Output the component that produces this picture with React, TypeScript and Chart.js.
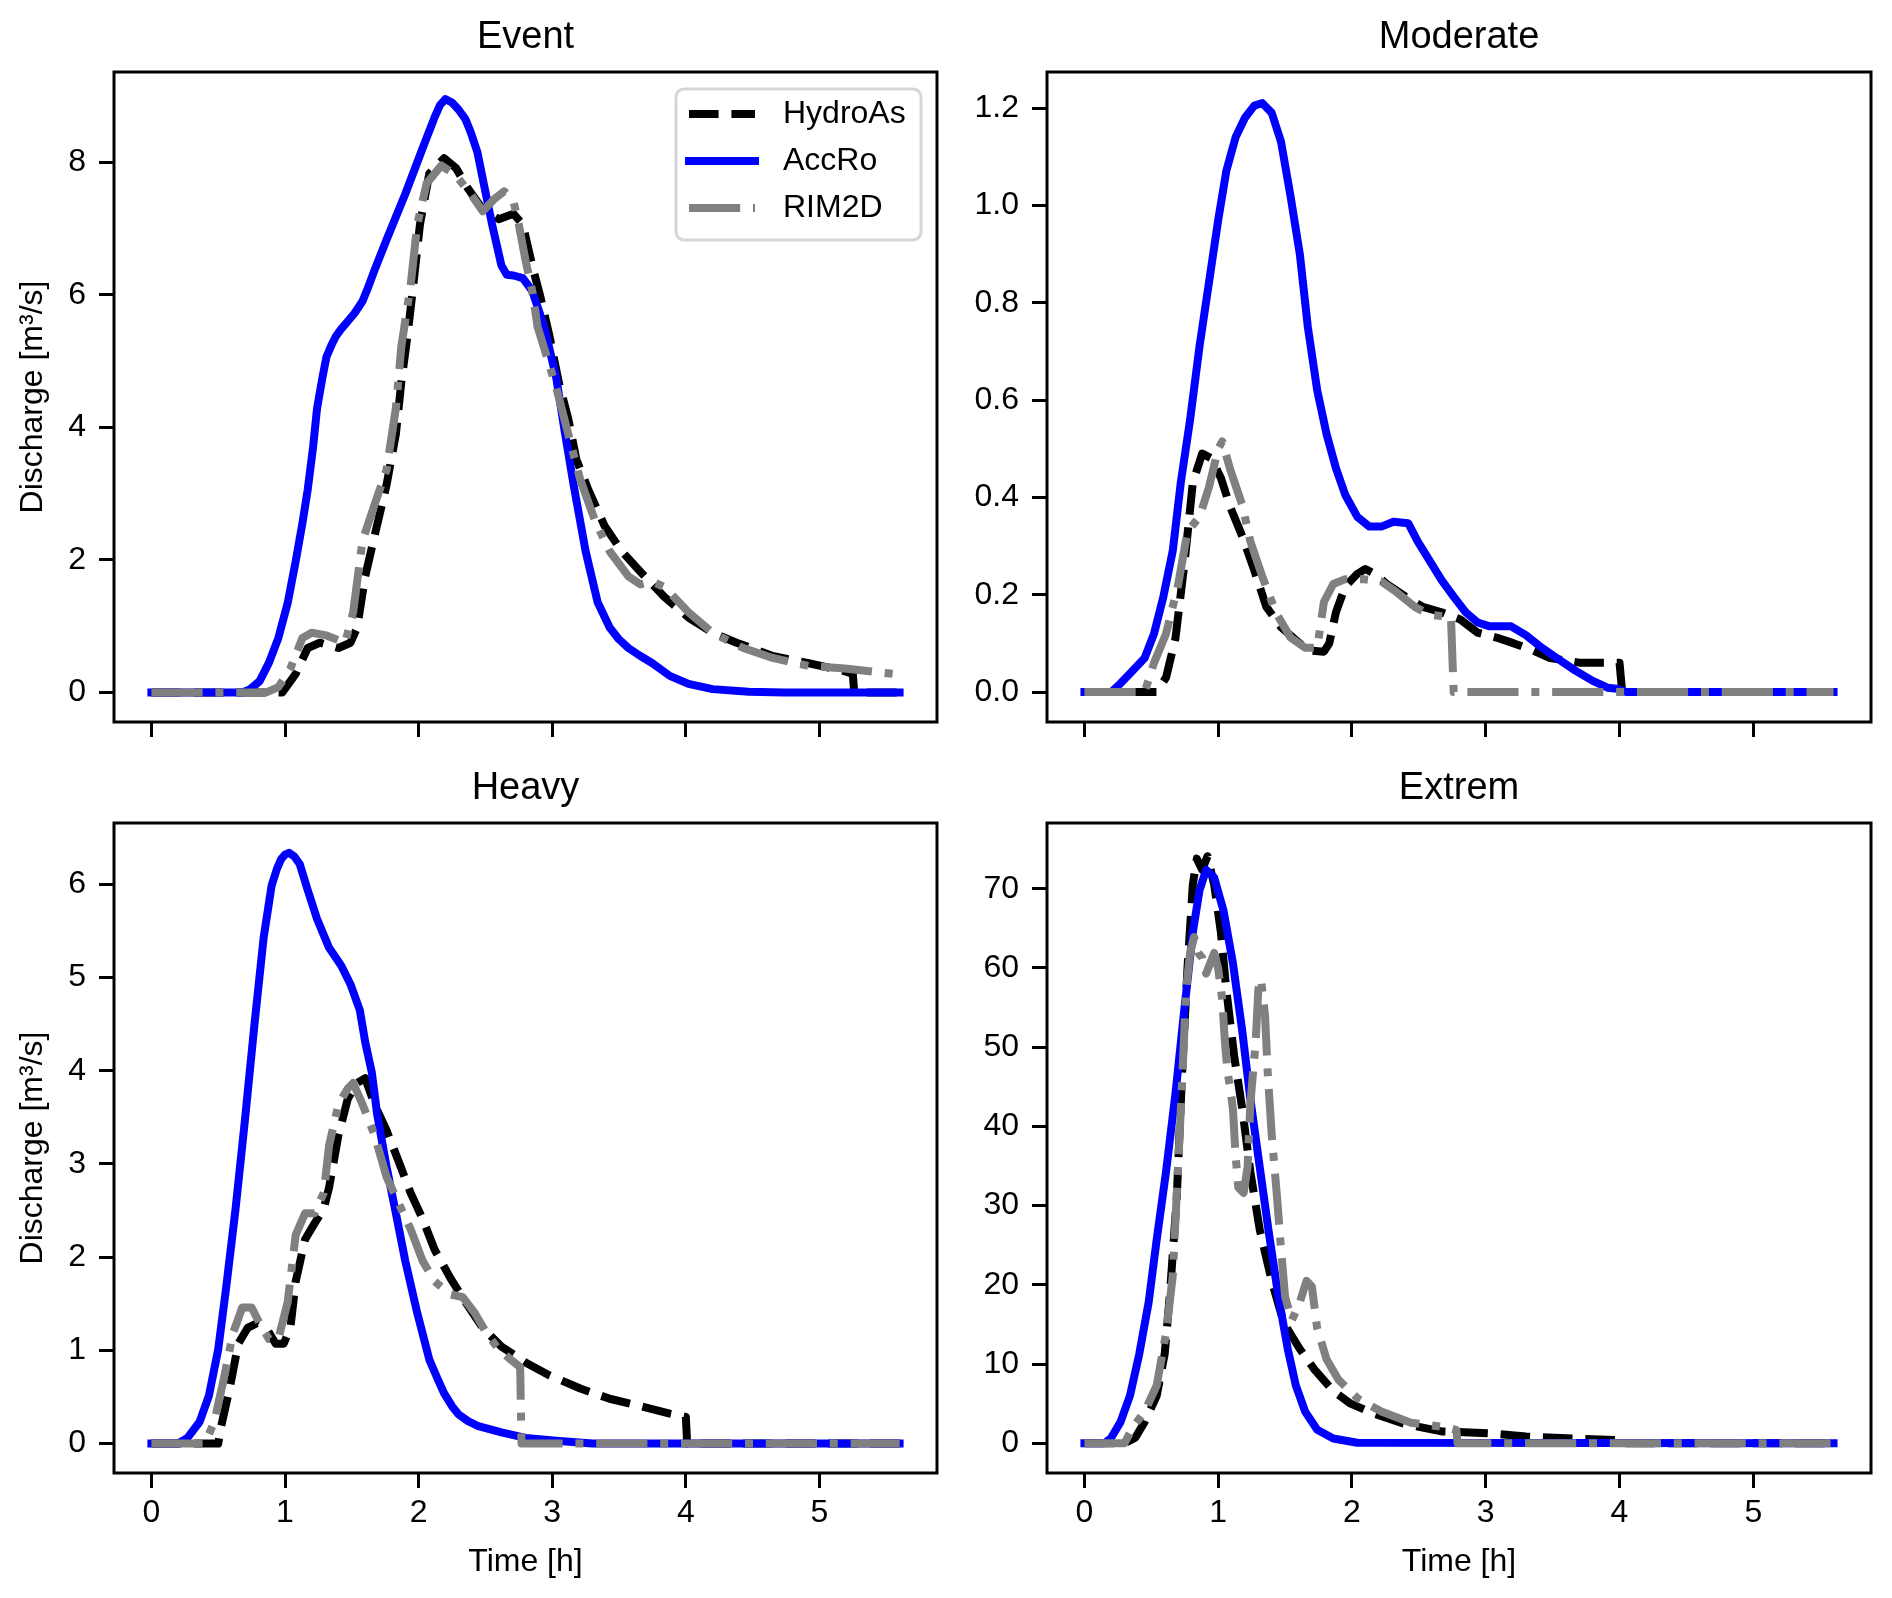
import React, { useEffect, useRef } from "react";
import { Chart, registerables } from "chart.js";

Chart.register(...registerables);

const FONT_FAMILY = "'Liberation Sans', Arial, Helvetica, sans-serif";

// ---------------- data ----------------
const seriesNames = ["HydroAs", "AccRo", "RIM2D"];
const panelTitles = ["Event", "Moderate", "Heavy", "Extrem"];
const xTickValues = [0, 1, 2, 3, 4, 5];
const eventYTicks = [0, 2, 4, 6, 8];
const moderateYTicks = [0, 0.2, 0.4, 0.6, 0.8, 1.0, 1.2];
const heavyYTicks = [0, 1, 2, 3, 4, 5, 6];
const extremYTicks = [0, 10, 20, 30, 40, 50, 60, 70];

// Event
const eventHydroAsX = [0, 0.98, 1.08, 1.17, 1.26, 1.4, 1.49, 1.54, 1.6, 1.67, 1.76, 1.83, 1.87, 1.92, 1.96, 2.01, 2.08, 2.19, 2.28, 2.37, 2.48, 2.6, 2.71, 2.78, 2.85, 2.91, 2.98, 3.05, 3.12, 3.18, 3.27, 3.39, 3.52, 3.66, 3.84, 4.02, 4.2, 4.38, 4.65, 4.92, 5.19, 5.25, 5.26, 5.6];
const eventHydroAsY = [0, 0, 0.28, 0.67, 0.75, 0.67, 0.75, 0.98, 1.75, 2.36, 3.13, 3.9, 4.67, 5.44, 6.14, 7.06, 7.83, 8.06, 7.91, 7.6, 7.29, 7.14, 7.22, 7.06, 6.44, 5.98, 5.37, 4.67, 4.13, 3.52, 3.06, 2.52, 2.13, 1.82, 1.44, 1.13, 0.9, 0.75, 0.55, 0.44, 0.32, 0.28, 0, 0];
const eventAccRoX = [0, 0.68, 0.74, 0.81, 0.88, 0.95, 1.02, 1.08, 1.13, 1.17, 1.21, 1.24, 1.28, 1.31, 1.35, 1.38, 1.42, 1.47, 1.52, 1.58, 1.62, 1.67, 1.76, 1.9, 2.03, 2.12, 2.16, 2.2, 2.25, 2.3, 2.35, 2.39, 2.44, 2.48, 2.55, 2.62, 2.66, 2.71, 2.78, 2.85, 2.94, 3.03, 3.09, 3.16, 3.25, 3.34, 3.43, 3.5, 3.57, 3.66, 3.75, 3.88, 4.02, 4.2, 4.47, 4.74, 5.6];
const eventAccRoY = [0, 0, 0.05, 0.17, 0.45, 0.82, 1.35, 1.98, 2.55, 3.06, 3.7, 4.29, 4.75, 5.06, 5.25, 5.37, 5.48, 5.6, 5.72, 5.9, 6.1, 6.37, 6.83, 7.52, 8.21, 8.68, 8.86, 8.95, 8.9, 8.79, 8.65, 8.45, 8.15, 7.75, 7.06, 6.44, 6.3, 6.29, 6.25, 6.06, 5.52, 4.75, 3.98, 3.13, 2.13, 1.36, 0.98, 0.8, 0.67, 0.55, 0.44, 0.25, 0.13, 0.05, 0.01, 0, 0];
const eventRim2dX = [0, 0.86, 0.95, 1.04, 1.13, 1.2, 1.31, 1.45, 1.51, 1.58, 1.67, 1.76, 1.83, 1.87, 1.94, 1.99, 2.06, 2.17, 2.28, 2.39, 2.48, 2.57, 2.64, 2.71, 2.75, 2.8, 2.85, 2.89, 2.96, 3.03, 3.12, 3.21, 3.32, 3.43, 3.57, 3.66, 3.75, 3.84, 4.02, 4.2, 4.43, 4.65, 4.92, 5.19, 5.6];
const eventRim2dY = [0, 0, 0.08, 0.36, 0.82, 0.9, 0.86, 0.75, 1.21, 2.29, 2.83, 3.36, 4.29, 5.21, 6.14, 7.06, 7.68, 7.95, 7.8, 7.52, 7.26, 7.45, 7.56, 7.41, 7.06, 6.52, 6.06, 5.52, 5.06, 4.6, 3.9, 3.21, 2.59, 2.13, 1.75, 1.63, 1.67, 1.59, 1.21, 0.9, 0.67, 0.52, 0.4, 0.36, 0.27];

// Moderate
const moderateHydroAsX = [0, 0.54, 0.61, 0.68, 0.75, 0.81, 0.88, 0.95, 1.02, 1.09, 1.18, 1.27, 1.36, 1.47, 1.58, 1.67, 1.79, 1.83, 1.88, 1.95, 2.04, 2.1, 2.17, 2.26, 2.4, 2.53, 2.67, 2.81, 2.94, 3.08, 3.21, 3.35, 3.48, 3.71, 4.0, 4.02, 5.6];
const moderateHydroAsY = [0, 0, 0.03, 0.11, 0.27, 0.43, 0.49, 0.48, 0.44, 0.38, 0.32, 0.25, 0.175, 0.133, 0.107, 0.086, 0.083, 0.1, 0.164, 0.217, 0.243, 0.253, 0.243, 0.222, 0.196, 0.175, 0.164, 0.149, 0.122, 0.112, 0.1, 0.086, 0.07, 0.06, 0.06, 0, 0];
const moderateAccRoX = [0, 0.2, 0.27, 0.36, 0.45, 0.52, 0.59, 0.66, 0.72, 0.79, 0.86, 0.93, 1.0, 1.06, 1.13, 1.2, 1.27, 1.33, 1.4, 1.47, 1.54, 1.61, 1.67, 1.74, 1.81, 1.88, 1.95, 2.04, 2.13, 2.22, 2.31, 2.42, 2.49, 2.58, 2.67, 2.76, 2.85, 2.94, 3.03, 3.19, 3.3, 3.42, 3.53, 3.67, 3.8, 3.91, 3.98, 4.05, 5.6];
const moderateAccRoY = [0, 0, 0.018, 0.044, 0.07, 0.12, 0.196, 0.29, 0.43, 0.56, 0.71, 0.84, 0.97, 1.07, 1.14, 1.18, 1.205, 1.21, 1.19, 1.13, 1.02, 0.9, 0.75, 0.62, 0.53, 0.46, 0.405, 0.36, 0.34, 0.34, 0.35, 0.347, 0.31, 0.27, 0.23, 0.196, 0.164, 0.143, 0.135, 0.135, 0.117, 0.091, 0.07, 0.044, 0.023, 0.009, 0.007, 0, 0];
const moderateRim2dX = [0, 0.45, 0.52, 0.61, 0.7, 0.77, 0.86, 0.93, 1.0, 1.03, 1.09, 1.18, 1.24, 1.33, 1.43, 1.54, 1.65, 1.74, 1.79, 1.86, 1.95, 2.08, 2.22, 2.33, 2.47, 2.58, 2.74, 2.76, 5.6];
const moderateRim2dY = [0, 0, 0.06, 0.12, 0.22, 0.33, 0.36, 0.42, 0.5, 0.515, 0.457, 0.384, 0.31, 0.237, 0.164, 0.112, 0.091, 0.091, 0.185, 0.222, 0.232, 0.232, 0.227, 0.206, 0.175, 0.159, 0.154, 0, 0];

// Heavy
const heavyHydroAsX = [0, 0.5, 0.52, 0.59, 0.65, 0.72, 0.79, 0.86, 0.93, 0.99, 1.04, 1.08, 1.15, 1.22, 1.29, 1.33, 1.4, 1.47, 1.54, 1.6, 1.67, 1.76, 1.85, 1.94, 2.03, 2.12, 2.24, 2.35, 2.48, 2.62, 2.8, 2.98, 3.21, 3.43, 3.66, 3.88, 4.0, 4.01, 5.6];
const heavyHydroAsY = [0, 0, 0.17, 0.62, 1.07, 1.24, 1.29, 1.24, 1.07, 1.07, 1.24, 1.74, 2.19, 2.36, 2.52, 2.75, 3.31, 3.7, 3.87, 3.92, 3.64, 3.36, 3.03, 2.69, 2.41, 2.08, 1.77, 1.52, 1.24, 1.04, 0.87, 0.73, 0.59, 0.48, 0.4, 0.32, 0.285, 0, 0];
const heavyAccRoX = [0, 0.2, 0.27, 0.36, 0.43, 0.5, 0.56, 0.63, 0.7, 0.77, 0.84, 0.9, 0.94, 0.97, 1.0, 1.03, 1.07, 1.11, 1.17, 1.24, 1.33, 1.42, 1.49, 1.56, 1.6, 1.65, 1.69, 1.76, 1.83, 1.9, 1.99, 2.08, 2.14, 2.19, 2.25, 2.3, 2.37, 2.44, 2.62, 2.8, 3.03, 3.3, 5.6];
const heavyAccRoY = [0, 0, 0.06, 0.23, 0.51, 1.01, 1.68, 2.52, 3.47, 4.48, 5.43, 5.99, 6.17, 6.27, 6.32, 6.34, 6.3, 6.22, 5.94, 5.63, 5.32, 5.13, 4.93, 4.65, 4.31, 3.98, 3.53, 2.97, 2.47, 1.96, 1.4, 0.9, 0.7, 0.54, 0.4, 0.31, 0.24, 0.19, 0.12, 0.06, 0.03, 0, 0];
const heavyRim2dX = [0, 0.4, 0.47, 0.54, 0.61, 0.68, 0.75, 0.81, 0.88, 0.95, 1.02, 1.08, 1.15, 1.22, 1.29, 1.33, 1.4, 1.47, 1.51, 1.58, 1.67, 1.76, 1.85, 1.94, 2.03, 2.12, 2.24, 2.33, 2.42, 2.51, 2.6, 2.69, 2.76, 2.77, 5.6];
const heavyRim2dY = [0, 0, 0.23, 0.68, 1.18, 1.46, 1.46, 1.29, 1.12, 1.12, 1.52, 2.24, 2.47, 2.47, 2.69, 3.2, 3.64, 3.81, 3.87, 3.64, 3.31, 2.86, 2.58, 2.3, 1.96, 1.74, 1.6, 1.57, 1.4, 1.18, 1.01, 0.9, 0.82, 0, 0];

// Extrem
const extremHydroAsX = [0, 0.3, 0.38, 0.45, 0.54, 0.6, 0.64, 0.69, 0.73, 0.77, 0.81, 0.84, 0.88, 0.92, 0.97, 1.02, 1.06, 1.12, 1.18, 1.24, 1.31, 1.4, 1.49, 1.61, 1.72, 1.86, 1.99, 2.17, 2.4, 2.67, 3.03, 3.3, 3.67, 4.0, 4.01, 5.6];
const extremHydroAsY = [0, 0, 0.7, 2.7, 6.0, 11.3, 19.1, 31.0, 46.8, 59.9, 70.5, 73.8, 72.4, 74.1, 70.5, 64.5, 57.3, 48.8, 42.2, 34.3, 27.0, 20.5, 15.2, 11.9, 9.3, 6.6, 5.0, 3.7, 2.4, 1.5, 1.25, 0.86, 0.6, 0.4, 0, 0];
const extremAccRoX = [0, 0.15, 0.2, 0.27, 0.34, 0.41, 0.48, 0.54, 0.61, 0.68, 0.75, 0.81, 0.86, 0.91, 0.97, 1.04, 1.11, 1.18, 1.24, 1.31, 1.38, 1.45, 1.52, 1.58, 1.65, 1.74, 1.86, 2.04, 5.6];
const extremAccRoY = [0, 0, 0.7, 2.7, 6.0, 11.3, 17.8, 25.7, 34.3, 44.1, 55.3, 64.5, 69.8, 72.4, 71.4, 67.2, 60.6, 52.0, 43.5, 34.9, 26.4, 18.5, 11.9, 7.3, 4.0, 1.7, 0.6, 0.07, 0];
const extremRim2dX = [0, 0.3, 0.36, 0.45, 0.54, 0.61, 0.66, 0.7, 0.73, 0.76, 0.79, 0.82, 0.85, 0.88, 0.91, 0.94, 0.97, 1.0, 1.03, 1.05, 1.07, 1.09, 1.11, 1.13, 1.15, 1.19, 1.22, 1.24, 1.28, 1.3, 1.32, 1.35, 1.37, 1.4, 1.44, 1.47, 1.5, 1.55, 1.61, 1.66, 1.7, 1.74, 1.81, 1.9, 2.04, 2.22, 2.44, 2.71, 2.78, 2.79, 5.6];
const extremRim2dY = [0, 0, 2.0, 4.0, 7.3, 13.9, 21.1, 34.9, 45.5, 57.3, 61.9, 63.9, 61.9, 61.3, 59.3, 60.6, 61.9, 59.9, 56.0, 50.7, 46.8, 44.8, 42.2, 36.3, 32.3, 31.6, 34.9, 42.8, 50.7, 57.3, 58.6, 54.0, 46.8, 38.9, 31.0, 24.4, 18.5, 15.5, 17.8, 20.5, 19.8, 14.5, 10.6, 8.0, 5.7, 4.0, 2.6, 2.0, 1.7, 0, 0];

// ---------------- styles / layout ----------------
const LINE_WIDTH = 8;
const SERIES_STYLE = [
  { color: "#000000", dash: [29.6, 12.8], cap: "butt", order: 2 },
  { color: "#0000ff", dash: [] as number[], cap: "square", order: 1 },
  { color: "#808080", dash: [51.2, 12.8, 8, 12.8], cap: "butt", order: 0 },
];

type PanelCfg = {
  title: string;
  xs: number[][];
  ys: number[][];
  yMin: number;
  yMax: number;
  yTicks: number[];
  decimals: number;
  box: { left: number; top: number; width: number; height: number };
  padRight: number;
  yAxisWidth: number;
  xAxisHeight: number;
  titlePad: { top: number; bottom: number };
  showXLabels: boolean;
  showYTitle: boolean;
  showLegend: boolean;
};

const X_MIN = -0.28;
const X_MAX = 5.88;

const panels: PanelCfg[] = [
  {
    title: panelTitles[0],
    xs: [eventHydroAsX, eventAccRoX, eventRim2dX],
    ys: [eventHydroAsY, eventAccRoY, eventRim2dY],
    yMin: -0.446, yMax: 9.36, yTicks: eventYTicks, decimals: 0,
    box: { left: 0, top: 0, width: 946, height: 760 },
    padRight: 9, yAxisWidth: 114, xAxisHeight: 38,
    titlePad: { top: 19, bottom: 15 },
    showXLabels: false, showYTitle: true, showLegend: true,
  },
  {
    title: panelTitles[1],
    xs: [moderateHydroAsX, moderateAccRoX, moderateRim2dX],
    ys: [moderateHydroAsY, moderateAccRoY, moderateRim2dY],
    yMin: -0.0615, yMax: 1.274, yTicks: moderateYTicks, decimals: 1,
    box: { left: 946, top: 0, width: 946, height: 760 },
    padRight: 21, yAxisWidth: 101, xAxisHeight: 38,
    titlePad: { top: 19, bottom: 15 },
    showXLabels: false, showYTitle: false, showLegend: false,
  },
  {
    title: panelTitles[2],
    xs: [heavyHydroAsX, heavyAccRoX, heavyRim2dX],
    ys: [heavyHydroAsY, heavyAccRoY, heavyRim2dY],
    yMin: -0.317, yMax: 6.66, yTicks: heavyYTicks, decimals: 0,
    box: { left: 0, top: 760, width: 946, height: 838 },
    padRight: 9, yAxisWidth: 114, xAxisHeight: 125,
    titlePad: { top: 10, bottom: 15 },
    showXLabels: true, showYTitle: true, showLegend: false,
  },
  {
    title: panelTitles[3],
    xs: [extremHydroAsX, extremAccRoX, extremRim2dX],
    ys: [extremHydroAsY, extremAccRoY, extremRim2dY],
    yMin: -3.75, yMax: 78.3, yTicks: extremYTicks, decimals: 0,
    box: { left: 946, top: 760, width: 946, height: 838 },
    padRight: 21, yAxisWidth: 101, xAxisHeight: 125,
    titlePad: { top: 10, bottom: 15 },
    showXLabels: true, showYTitle: false, showLegend: false,
  },
];

// frame (all four spines) drawn above the lines
const framePlugin = {
  id: "mplFrame",
  afterDatasetsDraw(chart: any) {
    const { ctx, chartArea } = chart;
    ctx.save();
    ctx.strokeStyle = "#000";
    ctx.lineWidth = 3;
    ctx.setLineDash([]);
    ctx.strokeRect(chartArea.left, chartArea.top, chartArea.right - chartArea.left, chartArea.bottom - chartArea.top);
    ctx.restore();
  },
};

// matplotlib-style legend in the upper right corner
const legendPlugin = {
  id: "mplLegend",
  afterDraw(chart: any) {
    const { ctx, chartArea } = chart;
    const boxRight = chartArea.right - 16;
    const boxTop = chartArea.top + 17;
    const boxW = 245;
    const boxH = 151;
    const boxLeft = boxRight - boxW;
    ctx.save();
    ctx.beginPath();
    if (ctx.roundRect) ctx.roundRect(boxLeft, boxTop, boxW, boxH, 8);
    else ctx.rect(boxLeft, boxTop, boxW, boxH);
    ctx.fillStyle = "rgba(255,255,255,0.8)";
    ctx.fill();
    ctx.strokeStyle = "#d6d6d6";
    ctx.lineWidth = 3;
    ctx.stroke();
    const handleX0 = boxLeft + 13;
    const handleX1 = handleX0 + 66;
    const textX = boxLeft + 107;
    chart.data.datasets.forEach((ds: any, i: number) => {
      const y = boxTop + 25 + i * 47;
      ctx.beginPath();
      ctx.setLineDash(SERIES_STYLE[i].dash);
      ctx.lineDashOffset = 0;
      ctx.lineCap = SERIES_STYLE[i].cap;
      ctx.strokeStyle = SERIES_STYLE[i].color;
      ctx.lineWidth = LINE_WIDTH;
      ctx.moveTo(handleX0, y);
      ctx.lineTo(handleX1, y);
      ctx.stroke();
      ctx.setLineDash([]);
      ctx.fillStyle = "#000";
      ctx.font = `32px ${FONT_FAMILY}`;
      ctx.textAlign = "left";
      ctx.textBaseline = "middle";
      ctx.fillText(ds.label, textX, y);
    });
    ctx.restore();
  },
};

function buildConfig(p: PanelCfg): any {
  const datasets = seriesNames.map((name, i) => ({
    label: name,
    data: p.xs[i].map((x, k) => ({ x, y: p.ys[i][k] })),
    borderColor: SERIES_STYLE[i].color,
    backgroundColor: SERIES_STYLE[i].color,
    borderWidth: LINE_WIDTH,
    borderDash: SERIES_STYLE[i].dash,
    borderCapStyle: SERIES_STYLE[i].cap,
    borderJoinStyle: "round",
    pointRadius: 0,
    pointHoverRadius: 0,
    tension: 0,
    fill: false,
    order: SERIES_STYLE[i].order,
  }));
  const tickFont = { family: FONT_FAMILY, size: 32, lineHeight: 1, weight: "normal" };
  return {
    type: "line",
    data: { datasets },
    options: {
      animation: false,
      responsive: false,
      events: [],
      layout: { padding: { left: 0, top: 0, right: p.padRight, bottom: 0 } },
      plugins: {
        legend: { display: false },
        tooltip: { enabled: false },
        title: {
          display: true,
          text: p.title,
          fullSize: false,
          color: "#000",
          font: { family: FONT_FAMILY, size: 38, weight: "normal", lineHeight: 1 },
          padding: p.titlePad,
        },
      },
      scales: {
        x: {
          type: "linear",
          position: "bottom",
          min: X_MIN,
          max: X_MAX,
          afterBuildTicks: (scale: any) => {
            scale.ticks = xTickValues.map((v) => ({ value: v }));
          },
          afterFit: (scale: any) => {
            scale.height = p.xAxisHeight;
          },
          border: { display: false },
          grid: {
            drawOnChartArea: false,
            drawTicks: true,
            tickLength: 15,
            tickWidth: 3,
            tickColor: "#000",
          },
          ticks: {
            autoSkip: false,
            maxRotation: 0,
            minRotation: 0,
            padding: 9,
            color: "#000",
            font: tickFont,
            callback: (v: any) => (p.showXLabels ? String(Number(v)) : ""),
          },
          title: {
            display: p.showXLabels,
            text: "Time [h]",
            color: "#000",
            font: { family: FONT_FAMILY, size: 32, lineHeight: 1, weight: "normal" },
            padding: { top: 0, bottom: 20 },
          },
        },
        y: {
          type: "linear",
          position: "left",
          min: p.yMin,
          max: p.yMax,
          afterBuildTicks: (scale: any) => {
            scale.ticks = p.yTicks.map((v) => ({ value: v }));
          },
          afterFit: (scale: any) => {
            scale.width = p.yAxisWidth;
          },
          border: { display: false },
          grid: {
            drawOnChartArea: false,
            drawTicks: true,
            tickLength: 15,
            tickWidth: 3,
            tickColor: "#000",
          },
          ticks: {
            autoSkip: false,
            padding: 13,
            color: "#000",
            font: tickFont,
            callback: (v: any) => Number(v).toFixed(p.decimals),
          },
          title: {
            display: p.showYTitle,
            text: "Discharge [m³/s]",
            color: "#000",
            font: { family: FONT_FAMILY, size: 32, lineHeight: 1, weight: "normal" },
            padding: { top: 17, bottom: 0 },
          },
        },
      },
    },
    plugins: p.showLegend ? [framePlugin, legendPlugin] : [framePlugin],
  };
}

function Panel({ cfg }: { cfg: PanelCfg }) {
  const ref = useRef<HTMLCanvasElement | null>(null);
  useEffect(() => {
    if (!ref.current) return;
    const chart = new Chart(ref.current, buildConfig(cfg));
    return () => chart.destroy();
  }, [cfg]);
  return (
    <canvas
      ref={ref}
      width={cfg.box.width}
      height={cfg.box.height}
      style={{
        position: "absolute",
        left: cfg.box.left,
        top: cfg.box.top,
        width: cfg.box.width,
        height: cfg.box.height,
      }}
    />
  );
}

export default function App() {
  return (
    <div
      style={{
        position: "absolute",
        left: 0,
        top: 0,
        width: 1892,
        height: 1598,
        background: "#ffffff",
        overflow: "hidden",
      }}
    >
      {panels.map((p) => (
        <Panel key={p.title} cfg={p} />
      ))}
    </div>
  );
}
